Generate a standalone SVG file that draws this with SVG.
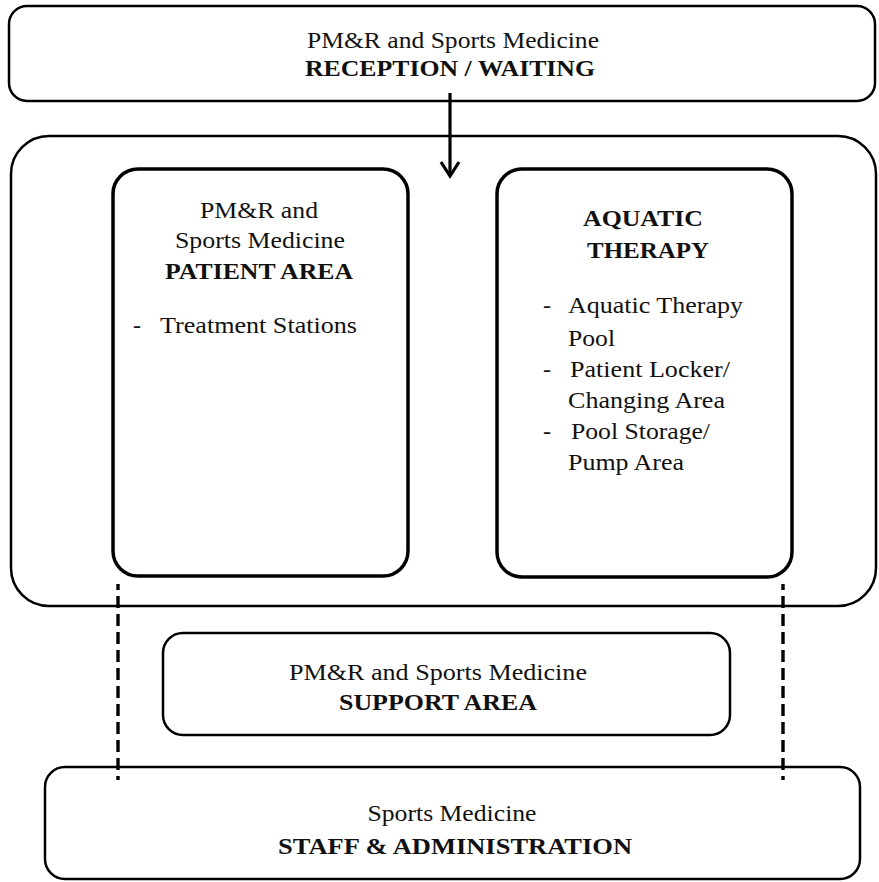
<svg xmlns="http://www.w3.org/2000/svg" width="879" height="882" viewBox="0 0 879 882">
<defs>
<style>
.box{fill:none;stroke:#000;stroke-width:2.5}
.inner{fill:none;stroke:#000;stroke-width:3.5}
.t{font-family:"Liberation Serif","Times New Roman",serif;font-size:24px;fill:#111}
.b{font-weight:bold}
.c{text-anchor:middle}
.dash{stroke:#000;stroke-width:3.4;stroke-dasharray:12 6;stroke-dashoffset:6;fill:none}
</style>
</defs>
<rect width="879" height="882" fill="#fff"/>
<g id="reception">
<rect class="box" x="9" y="6" width="866" height="95" rx="18"/>
<text class="t c" x="453" y="48" textLength="292" lengthAdjust="spacingAndGlyphs">PM&amp;R and Sports Medicine</text>
<text class="t b c" x="450" y="76" textLength="290" lengthAdjust="spacingAndGlyphs">RECEPTION / WAITING</text>
</g>
<g id="main-area">
<rect class="box" x="11" y="136" width="865" height="470" rx="38" stroke-width="2.7"/>
</g>
<g id="patient-area">
<rect class="inner" x="113" y="169" width="295" height="407" rx="25"/>
<text class="t c" x="259" y="218" textLength="118" lengthAdjust="spacingAndGlyphs">PM&amp;R and</text>
<text class="t c" x="260" y="248" textLength="170" lengthAdjust="spacingAndGlyphs">Sports Medicine</text>
<text class="t b c" x="259" y="279" textLength="188" lengthAdjust="spacingAndGlyphs">PATIENT AREA</text>
<text class="t" x="133" y="333">-</text>
<text class="t" x="160" y="333" textLength="197" lengthAdjust="spacingAndGlyphs">Treatment Stations</text>
</g>
<g id="aquatic-therapy">
<rect class="inner" x="497" y="169" width="295" height="408" rx="25"/>
<text class="t b c" x="643" y="226" textLength="120" lengthAdjust="spacingAndGlyphs">AQUATIC</text>
<text class="t b c" x="648" y="258" textLength="122" lengthAdjust="spacingAndGlyphs">THERAPY</text>
<text class="t" x="543" y="313">-</text>
<text class="t" x="568" y="313" textLength="175" lengthAdjust="spacingAndGlyphs">Aquatic Therapy</text>
<text class="t" x="568" y="346" textLength="47" lengthAdjust="spacingAndGlyphs">Pool</text>
<text class="t" x="543" y="377">-</text>
<text class="t" x="570" y="377" textLength="160" lengthAdjust="spacingAndGlyphs">Patient Locker/</text>
<text class="t" x="568" y="408" textLength="157" lengthAdjust="spacingAndGlyphs">Changing Area</text>
<text class="t" x="543" y="439">-</text>
<text class="t" x="571" y="439" textLength="139" lengthAdjust="spacingAndGlyphs">Pool Storage/</text>
<text class="t" x="568" y="470" textLength="116" lengthAdjust="spacingAndGlyphs">Pump Area</text>
</g>
<g id="support-area">
<rect class="box" x="163" y="633" width="567" height="102" rx="20"/>
<text class="t c" x="438" y="680" textLength="298" lengthAdjust="spacingAndGlyphs">PM&amp;R and Sports Medicine</text>
<text class="t b c" x="438" y="710" textLength="198" lengthAdjust="spacingAndGlyphs">SUPPORT AREA</text>
</g>
<g id="staff-admin">
<rect class="box" x="45" y="767" width="815" height="112" rx="20"/>
<text class="t c" x="452" y="821" textLength="169" lengthAdjust="spacingAndGlyphs">Sports Medicine</text>
<text class="t b c" x="455" y="854" textLength="354" lengthAdjust="spacingAndGlyphs">STAFF &amp; ADMINISTRATION</text>
</g>
<g id="connectors">
<line x1="450" y1="93" x2="450" y2="175" stroke="#000" stroke-width="3.2"/>
<polyline points="441,162 450,176 459,162" fill="none" stroke="#000" stroke-width="3.2" stroke-linejoin="miter"/>
<line class="dash" x1="118" y1="584" x2="118" y2="780"/>
<line class="dash" x1="783" y1="584" x2="783" y2="780"/>
</g>
</svg>
